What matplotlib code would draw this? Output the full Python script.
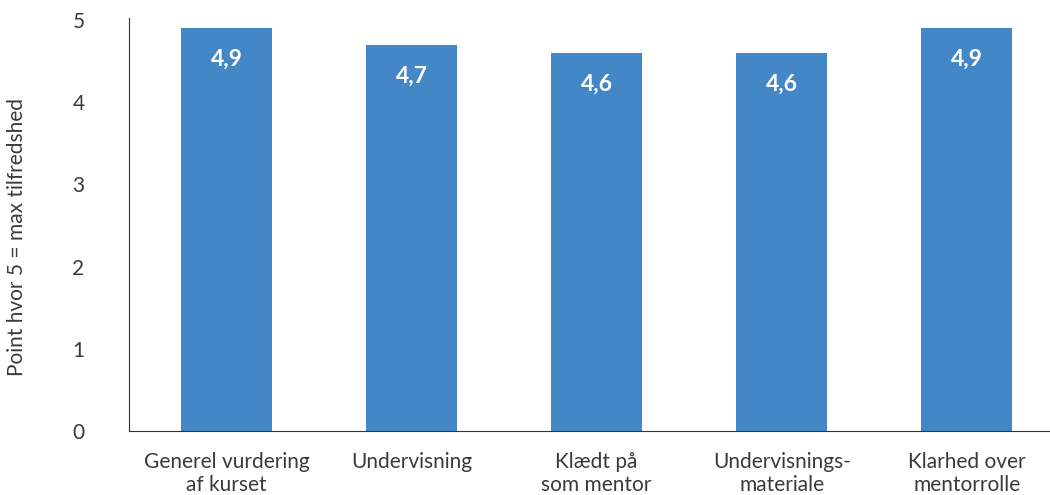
import matplotlib.pyplot as plt

# tilfredshed med kurset, gennemsnit pr. spørgsmål
categories = ["Generel vurdering\naf kurset", "Undervisning", "Klædt på\nsom mentor",
              "Undervisnings-\nmateriale", "Klarhed over\nmentorrolle"]
scores = [4.9, 4.7, 4.6, 4.6, 4.9]
yticks = [0, 1, 2, 3, 4, 5]

plt.rcParams['font.family'] = ['Lato', 'DejaVu Sans']

fig = plt.figure(figsize=(10.5, 4.95), dpi=100)
ax = fig.add_axes([0.1229, 0.1293, 0.8771, 0.8303])

x = range(len(categories))
bars = ax.bar(x, scores, width=0.49, color="#4387c6")

for b, v in zip(bars, scores):
    ax.annotate(f"{v:.1f}".replace(".", ","), (b.get_x() + b.get_width() / 2, v),
                xytext=(0, -22.5), textcoords="offset points", ha="center", va="center",
                color="white", fontsize=16.5, fontweight="bold")

ax.set_ylim(0, 5)
ax.set_xlim(-0.527, 4.45)
ax.set_yticks(yticks)
ax.set_xticks(list(x))
ax.set_xticklabels(categories, fontsize=15, color="#3a3a3a", linespacing=1.2)
ax.tick_params(axis="x", length=0, pad=15)
ax.tick_params(axis="y", length=0, pad=32, labelsize=15, labelcolor="#3a3a3a")

for s in ["top", "right"]:
    ax.spines[s].set_visible(False)
ax.spines["left"].set_color("#333333")
ax.spines["bottom"].set_color("#333333")
ax.spines["left"].set_bounds(0, 5.03)

fig.text(0.016, 0.521, "Point hvor 5 = max tilfredshed", rotation=90, ha="center", va="center",
         fontsize=15, color="#3a3a3a")

fig.savefig("out.png", dpi=100)
